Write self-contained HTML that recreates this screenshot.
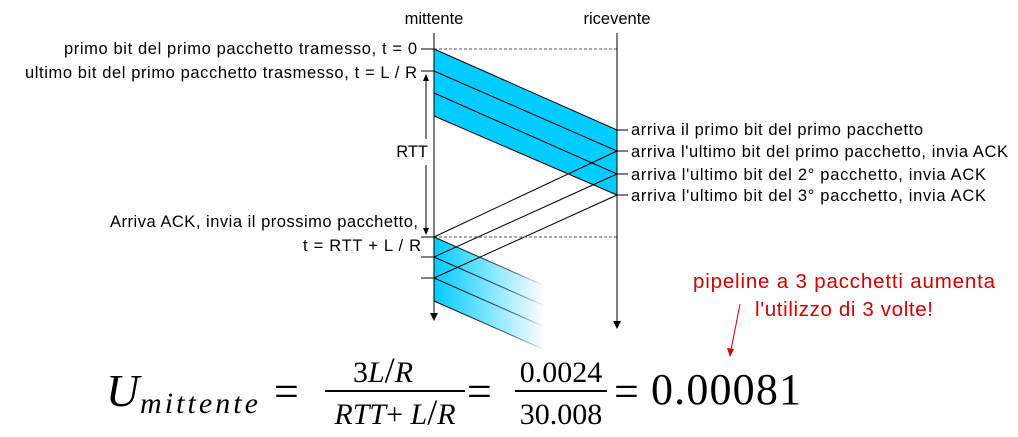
<!DOCTYPE html>
<html><head><meta charset="utf-8"><style>
html,body{margin:0;padding:0;background:#fff;}
svg{display:block;}
.t{font-family:"Liberation Sans",Arial,sans-serif;font-size:16.5px;fill:#000;}
.r{font-family:"Liberation Sans",Arial,sans-serif;font-size:20.5px;fill:#d00000;}
.m{font-family:"Liberation Serif",serif;fill:#000;}
</style></head><body>
<svg width="1018" height="437" viewBox="0 0 1018 437">
<defs>
<linearGradient id="fade" x1="434" y1="0" x2="545" y2="0" gradientUnits="userSpaceOnUse">
<stop offset="0" stop-color="#00ccff"/><stop offset="1" stop-color="#00ccff" stop-opacity="0"/>
</linearGradient>
<linearGradient id="fadeL" x1="434" y1="0" x2="545" y2="0" gradientUnits="userSpaceOnUse">
<stop offset="0" stop-color="#000"/><stop offset="0.7" stop-color="#000" stop-opacity="0.6"/><stop offset="1" stop-color="#000" stop-opacity="0"/>
</linearGradient>
</defs>

<text class="t" x="434" y="24" text-anchor="middle">mittente</text>
<text class="t" x="617" y="24" text-anchor="middle">ricevente</text>

<polygon points="434,49 617,130 617,195 434,116" fill="#00ccff"/>
<line x1="434" y1="49" x2="617" y2="130" stroke="#000" stroke-width="1"/>
<line x1="434" y1="71" x2="617" y2="151" stroke="#000" stroke-width="1"/>
<line x1="434" y1="93" x2="617" y2="174" stroke="#000" stroke-width="1"/>
<line x1="434" y1="116" x2="617" y2="195" stroke="#000" stroke-width="1"/>

<polygon points="434,237 545,286 545,350 434,301" fill="url(#fade)"/>
<line x1="434" y1="237" x2="545" y2="286" stroke="url(#fadeL)"/>
<line x1="434" y1="257" x2="545" y2="306" stroke="url(#fadeL)"/>
<line x1="434" y1="278" x2="545" y2="327" stroke="url(#fadeL)"/>
<line x1="434" y1="301" x2="545" y2="350" stroke="url(#fadeL)"/>

<line x1="617" y1="151" x2="434" y2="237" stroke="#000"/>
<line x1="617" y1="174" x2="434" y2="257" stroke="#000"/>
<line x1="617" y1="195" x2="434" y2="278" stroke="#000"/>

<line x1="434" y1="49" x2="617" y2="49" stroke="#555" stroke-dasharray="3,2"/>
<line x1="434" y1="237" x2="617" y2="237" stroke="#555" stroke-dasharray="3,2"/>

<line x1="434" y1="33" x2="434" y2="316" stroke="#000"/>
<path d="M430,313 L438,313 L434,321 Z" fill="#000"/>
<line x1="617" y1="33" x2="617" y2="323" stroke="#000"/>
<path d="M613,321 L621,321 L617,329 Z" fill="#000"/>

<line x1="421" y1="49" x2="434" y2="49" stroke="#000"/>
<line x1="421" y1="71" x2="434" y2="71" stroke="#000"/>
<line x1="421" y1="237" x2="434" y2="237" stroke="#000"/>
<line x1="421" y1="257" x2="434" y2="257" stroke="#000"/>
<line x1="421" y1="278" x2="434" y2="278" stroke="#000"/>
<line x1="617" y1="130" x2="628" y2="130" stroke="#000"/>
<line x1="617" y1="151" x2="628" y2="151" stroke="#000"/>
<line x1="617" y1="174" x2="628" y2="174" stroke="#000"/>
<line x1="617" y1="195" x2="628" y2="195" stroke="#000"/>

<line x1="426" y1="80" x2="426" y2="139" stroke="#000"/>
<line x1="426" y1="165" x2="426" y2="229" stroke="#000"/>
<path d="M423,81 L429,81 L426,74 Z" fill="#000"/>
<path d="M423,228 L429,228 L426,235 Z" fill="#000"/>
<text class="t" x="428" y="157" text-anchor="end">RTT</text>

<text class="t" x="417" y="54" text-anchor="end" textLength="353">primo bit del primo pacchetto tramesso, t = 0</text>
<text class="t" x="417" y="78" text-anchor="end" textLength="392">ultimo bit del primo pacchetto trasmesso, t = L / R</text>
<text class="t" x="418" y="227" text-anchor="end" textLength="308">Arriva ACK, invia il prossimo pacchetto,</text>
<text class="t" x="421" y="251" text-anchor="end" textLength="118">t = RTT + L / R</text>

<text class="t" x="631" y="135" textLength="292">arriva il primo bit del primo pacchetto</text>
<text class="t" x="631" y="157" textLength="377">arriva l'ultimo bit del primo pacchetto, invia ACK</text>
<text class="t" x="631" y="180" textLength="355">arriva l'ultimo bit del 2°  pacchetto, invia ACK</text>
<text class="t" x="631" y="201" textLength="355">arriva l'ultimo bit del 3°  pacchetto, invia ACK</text>

<text class="r" x="844" y="288" text-anchor="middle" textLength="302">pipeline a 3 pacchetti aumenta</text>
<text class="r" x="844" y="316" text-anchor="middle" textLength="178">l'utilizzo di 3 volte!</text>
<line x1="740" y1="304" x2="731" y2="350" stroke="#d00000"/>
<path d="M727,348 L734,349 L730,357 Z" fill="#d00000"/>

<g>
<text class="m" x="106" y="406" font-size="46" font-style="italic">U</text>
<text class="m" x="140" y="413" font-size="30" font-style="italic" textLength="118">mittente</text>
<text class="m" x="274" y="406" font-size="44">=</text>
<text class="m" x="383" y="382" font-size="30" text-anchor="middle"><tspan>3</tspan><tspan font-style="italic">L</tspan><tspan font-size="36">/</tspan><tspan font-style="italic">R</tspan></text>
<line x1="325" y1="391" x2="465" y2="391" stroke="#000" stroke-width="2"/>
<text class="m" x="395" y="424" font-size="30" text-anchor="middle"><tspan font-style="italic">RTT</tspan><tspan>+ </tspan><tspan font-style="italic">L</tspan><tspan font-size="36">/</tspan><tspan font-style="italic">R</tspan></text>
<text class="m" x="467" y="406" font-size="44">=</text>
<text class="m" x="561" y="382" font-size="30" text-anchor="middle">0.0024</text>
<line x1="515" y1="391" x2="607" y2="391" stroke="#000" stroke-width="2"/>
<text class="m" x="561" y="424" font-size="30" text-anchor="middle">30.008</text>
<text class="m" x="614" y="406" font-size="44">=</text>
<text class="m" x="651" y="404" font-size="44" textLength="150">0.00081</text>
</g>
</svg>
</body></html>
